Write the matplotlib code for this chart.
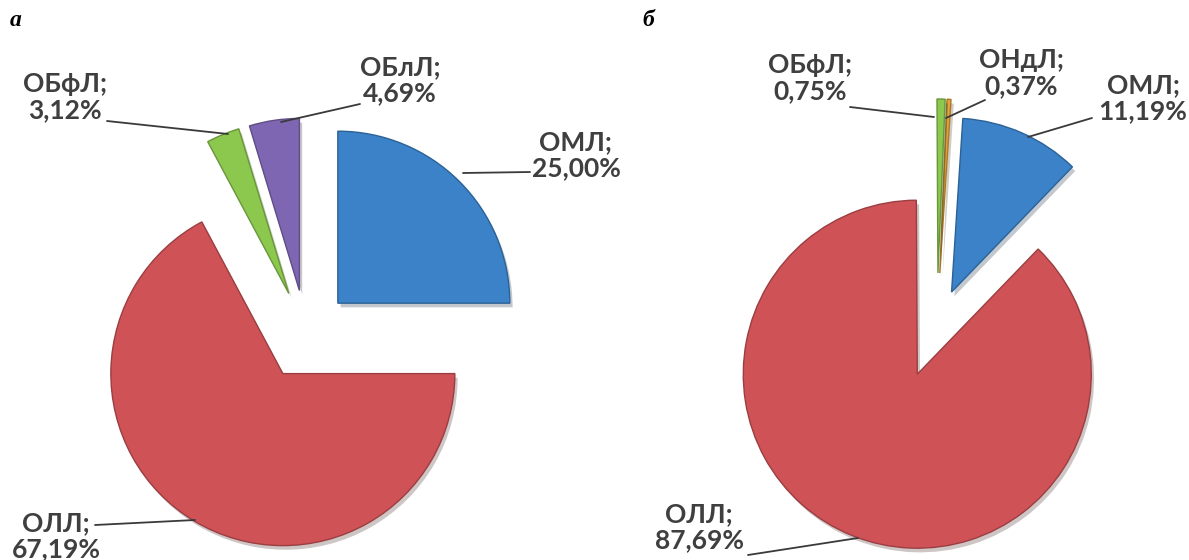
import matplotlib.pyplot as plt
import matplotlib.patheffects as pe
from matplotlib.colors import to_rgb

W, H = 1189, 560

# panel a
names_a = ["ОМЛ", "ОБлЛ", "ОБфЛ", "ОЛЛ"]
values_a = [25.00, 4.69, 3.12, 67.19]
colors_a = ["#3B82C8", "#7E66B2", "#8CC84E", "#CF5257"]

# panel b
names_b = ["ОМЛ", "ОНдЛ", "ОБфЛ", "ОЛЛ"]
values_b = [11.19, 0.37, 0.75, 87.69]
colors_b = ["#3B82C8", "#E3A33B", "#8CC84E", "#CF5257"]

TEXT_FONT = ["Lato", "Open Sans", "DejaVu Sans"]
TEXT_COLOR = "#3F3F3F"


def darker(c, k=0.75):
    r, g, b = to_rgb(c)
    return (r * k, g * k, b * k)


def label_text(name, value):
    return f"{name};\n{value:.2f}%".replace(".", ",")


def draw_pie(ax, values, colors, names, center, radius, explode, start,
             text_pos, leaders):
    cx, cy = center
    wedges, _ = ax.pie(values, colors=colors, explode=explode,
                       startangle=start, counterclock=True,
                       center=(cx, H - cy), radius=radius,
                       wedgeprops=dict(linewidth=1.0))
    for w, c in zip(wedges, colors):
        w.set_edgecolor(darker(c))
        w.set_path_effects([pe.SimplePatchShadow(offset=(2, -3), alpha=0.25),
                            pe.Normal()])
    for name, val, (tx, ty), (p0, p1) in zip(names, values, text_pos, leaders):
        ax.text(tx, H - ty, label_text(name, val), ha="center", va="center",
                fontsize=19, fontweight="bold", color=TEXT_COLOR,
                family=TEXT_FONT, linespacing=1.1)
        ax.annotate("", xy=(p1[0], H - p1[1]), xytext=(p0[0], H - p0[1]),
                    arrowprops=dict(arrowstyle="-", color="#3A3A3A", lw=1.3,
                                    shrinkA=0, shrinkB=0))


fig = plt.figure(figsize=(W / 100, H / 100), dpi=100)
ax = fig.add_axes([0, 0, 1, 1])

draw_pie(ax, values_a, colors_a, names_a,
         center=(306, 335), radius=172, explode=[45, 45, 45, 45], start=0,
         text_pos=[(576, 155), (400, 80), (65, 97), (56, 536)],
         leaders=[((530, 172), (463, 173)),
                  ((360, 104), (281, 122)),
                  ((107, 121), (228, 134)),
                  ((95, 525), (195, 520))])

draw_pie(ax, values_b, colors_b, names_b,
         center=(937, 325), radius=174, explode=[36, 52, 52, 53], start=46,
         text_pos=[(1143, 98), (1021, 73), (810, 78), (699, 527)],
         leaders=[((1092, 118), (1028, 137)),
                  ((985, 100), (946, 118)),
                  ((850, 107), (934, 117)),
                  ((748, 555), (858, 538))])

ax.text(16, H - 21, "а", ha="center", va="center", fontsize=17,
        fontweight="bold", fontstyle="italic", family="Liberation Serif")
ax.text(648, H - 21, "б", ha="center", va="center", fontsize=17,
        fontweight="bold", fontstyle="italic", family="Liberation Serif")

ax.set_xlim(0, W)
ax.set_ylim(0, H)
ax.set_aspect("equal")
ax.axis("off")

fig.savefig("out.png", dpi=100)
